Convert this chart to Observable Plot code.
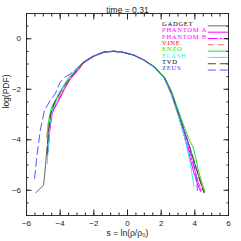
<!DOCTYPE html>
<html><head><meta charset="utf-8">
<script src="https://cdn.jsdelivr.net/npm/d3@7"></script>
<script src="https://cdn.jsdelivr.net/npm/@observablehq/plot@0.6"></script>
<style>body{margin:0;background:#fff} .leg text{letter-spacing:0.7px}</style>
</head><body><div id="chart"></div>
<script>
const title = "time = 0.31";
const xLabel = "s = ln(ρ/ρ₀)";
const yLabel = "log(PDF)";
const xMajor = [-6, -4, -2, 0, 2, 4, 6];
const yMajor = [-6, -4, -2, 0];
const names = ["GADGET", "PHANTOM A", "PHANTOM B", "VINE", "ENZO", "FLASH", "TVD", "ZEUS"];
const textColors = ["#000", "#f0f", "#f0f", "#f00", "#0e0", "#0ff", "#000", "#33f"];
const lineColors = ["#666", "#f0f", "#f0f", "#f66", "#2d2", "#3ee", "#444", "#55f"];
const dashes = [null, null, "10,2,2,2", "6,4", null, null, "8,4", "8,4"];

const gadgetS = [-5.45,-4.99,-4.9,-4.8,-4.66,-4.5,-4.3,-4.0,-3.7,-3.3,-3.0,-2.6,-2.0,-1.4,-0.8,-0.2,0.4,1.0,1.6,2.2,2.6,3.0,3.4,3.75,4.05,4.3,4.55];
const gadgetV = [-6.1,-5.8,-5.25,-4.45,-3.5,-2.85,-2.5,-2.08,-1.8,-1.45,-1.22,-0.92,-0.68,-0.53,-0.5,-0.55,-0.66,-0.86,-1.12,-1.55,-2.1,-2.9,-3.7,-4.4,-5.05,-5.6,-6.08];
const phantomAS = [-4.72,-4.62,-4.5,-4.35,-4.1,-3.8,-3.4,-3.0,-2.6,-2.0,-1.4,-0.8,-0.2,0.4,1.0,1.6,2.2,2.6,3.0,3.35,3.65,3.9,4.15,4.35];
const phantomAV = [-4.5,-3.6,-3.0,-2.75,-2.45,-2.05,-1.6,-1.3,-0.96,-0.7,-0.54,-0.49,-0.54,-0.65,-0.85,-1.13,-1.58,-2.2,-3.0,-3.8,-4.55,-5.2,-5.75,-6.05];
const phantomBS = [-4.7,-4.58,-4.45,-4.3,-4.05,-3.75,-3.4,-3.0,-2.6,-2.0,-1.4,-0.8,-0.2,0.4,1.0,1.6,2.2,2.6,3.0,3.4,3.7,4.0,4.2,4.4];
const phantomBV = [-4.2,-3.4,-2.9,-2.7,-2.4,-2.0,-1.58,-1.28,-0.95,-0.69,-0.53,-0.49,-0.54,-0.65,-0.86,-1.13,-1.57,-2.18,-2.98,-3.85,-4.5,-5.2,-5.7,-6.0];
const vineS = [-4.8,-4.68,-4.5,-4.3,-4.0,-3.7,-3.3,-3.0,-2.6,-2.0,-1.4,-0.8,-0.2,0.4,1.0,1.6,2.2,2.6,3.0,3.4,3.75,4.05,4.3,4.5];
const vineV = [-3.9,-3.2,-2.8,-2.6,-2.25,-1.9,-1.5,-1.27,-0.94,-0.68,-0.53,-0.49,-0.55,-0.66,-0.86,-1.12,-1.55,-2.15,-2.9,-3.7,-4.4,-5.1,-5.65,-6.0];
const enzoS = [-4.78,-4.65,-4.5,-4.3,-4.0,-3.7,-3.4,-3.0,-2.6,-2.0,-1.4,-0.8,-0.2,0.4,1.0,1.6,2.2,2.6,3.0,3.4,3.7,3.9,4.05,4.2,4.4,4.6];
const enzoV = [-3.8,-3.1,-2.7,-2.45,-2.1,-1.75,-1.45,-1.18,-0.9,-0.67,-0.52,-0.49,-0.55,-0.66,-0.85,-1.1,-1.52,-2.05,-2.8,-3.55,-4.05,-4.3,-4.7,-5.2,-5.65,-6.05];
const flashS = [-4.77,-4.7,-4.6,-4.45,-4.25,-4.0,-3.7,-3.3,-3.0,-2.6,-2.0,-1.4,-0.8,-0.2,0.4,1.0,1.6,2.2,2.6,3.0,3.35,3.6,3.8,3.95];
const flashV = [-4.95,-4.2,-3.3,-2.8,-2.5,-2.1,-1.8,-1.45,-1.22,-0.92,-0.68,-0.53,-0.5,-0.55,-0.66,-0.87,-1.14,-1.58,-2.18,-3.0,-3.8,-4.5,-5.2,-5.85];
const tvdS = [-4.78,-4.7,-4.55,-4.35,-4.05,-3.75,-3.35,-3.0,-2.6,-2.0,-1.4,-0.8,-0.2,0.4,1.0,1.6,2.2,2.6,3.0,3.4,3.75,4.05,4.3,4.55];
const tvdV = [-4.6,-3.7,-2.95,-2.55,-2.2,-1.88,-1.5,-1.23,-0.92,-0.68,-0.53,-0.5,-0.55,-0.66,-0.86,-1.12,-1.55,-2.12,-2.9,-3.7,-4.4,-5.05,-5.6,-6.1];
const zeusS = [-5.52,-5.39,-5.18,-4.93,-4.59,-4.29,-4.0,-3.7,-3.2,-2.6,-2.0,-1.4,-0.8,-0.2,0.4,1.0,1.6,2.2,2.6,3.0,3.4,3.7,3.95,4.1,4.15];
const zeusV = [-5.53,-4.68,-3.62,-2.83,-2.44,-2.17,-1.72,-1.52,-1.3,-0.93,-0.68,-0.53,-0.49,-0.54,-0.65,-0.85,-1.12,-1.55,-2.12,-2.9,-3.7,-4.35,-5.0,-5.5,-6.0];

const allS = [gadgetS, phantomAS, phantomBS, vineS, enzoS, flashS, tvdS, zeusS];
const allV = [gadgetV, phantomAV, phantomBV, vineV, enzoV, flashV, tvdV, zeusV];

const xMinor = d3.range(-6, 6.001, 0.5);
const yMinor = d3.range(-7, 1.001, 0.5);

// legend placement (in data units of the frame)
const legX = 2.05, legX1 = 4.77, legX2 = 5.96, legTop = 0.59, legStep = 0.25;

const marks = [];
names.forEach((name, i) => {
  const rows = allS[i].map((s, j) => ({s, v: allV[i][j]}));
  marks.push(Plot.line(rows, {x: "s", y: "v", stroke: lineColors[i], strokeWidth: 1, strokeDasharray: dashes[i]}));
});
names.forEach((name, i) => {
  const y = legTop - i * legStep;
  marks.push(Plot.text([name], {x: legX, y, text: d => d, textAnchor: "start", fill: textColors[i],
    fontFamily: "Liberation Serif", fontSize: 6.6, className: "leg"}));
  marks.push(Plot.link([name], {x1: legX1, x2: legX2, y1: y - 0.08, y2: y - 0.08, stroke: lineColors[i], strokeWidth: 1, strokeDasharray: dashes[i]}));
});

const chart = Plot.plot({
  width: 241, height: 241,
  marginLeft: 26, marginRight: 13, marginTop: 13, marginBottom: 26,
  style: {fontFamily: "Liberation Sans", fontSize: "8px", background: "#fff", color: "#222"},
  x: {domain: [-6, 6]},
  y: {domain: [-7, 1]},
  marks: [
    ...marks,
    Plot.frame({stroke: "#333"}),
    Plot.axisX(xMinor, {anchor: "bottom", tickSize: -2.5, text: null, label: null}),
    Plot.axisX(xMajor, {anchor: "bottom", tickSize: -5.5, tickPadding: 10, label: null}),
    Plot.axisX(xMinor, {anchor: "top", tickSize: -2.5, text: null, label: null}),
    Plot.axisX(xMajor, {anchor: "top", tickSize: -5.5, text: null, label: null}),
    Plot.axisY(yMinor, {anchor: "left", tickSize: -2.5, text: null, label: null}),
    Plot.axisY(yMajor, {anchor: "left", tickSize: -5.5, tickPadding: 11, label: null}),
    Plot.axisY(yMinor, {anchor: "right", tickSize: -2.5, text: null, label: null}),
    Plot.axisY(yMajor, {anchor: "right", tickSize: -5.5, text: null, label: null}),
    Plot.text([title], {frameAnchor: "top", dy: -7, text: d => d, fontSize: 8.5}),
    Plot.text([xLabel], {frameAnchor: "bottom", dy: 20, text: d => d, fontSize: 8.5}),
    Plot.text([yLabel], {frameAnchor: "left", dx: -20, dy: -6, rotate: -90, text: d => d, fontSize: 8.5})
  ]
});
document.getElementById("chart").append(chart);
</script></body></html>
